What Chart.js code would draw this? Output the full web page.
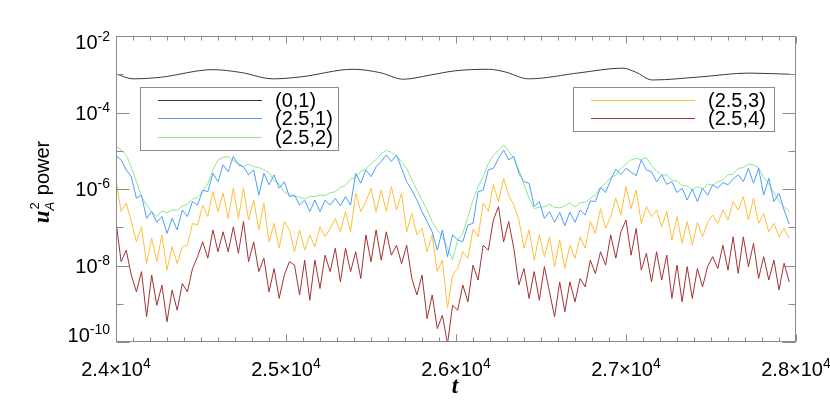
<!DOCTYPE html>
<html>
<head>
<meta charset="utf-8">
<script src="https://cdn.jsdelivr.net/npm/chart.js@4.4.0/dist/chart.umd.min.js"></script>
<style>
html, body { margin: 0; padding: 0; background: #fff; }
canvas { display: block; }
</style>
</head>
<body>
<canvas id="power" width="830" height="415"></canvas>
<script>
// time grid of the (2.5,*) curves: t = T0 + DT*i
var T0 = 24000, DT = 30;

// log10 of u_A^2 power
var logK25m1 = [-5.13,-5.24,-5.50,-5.68,-6.24,-6.16,-6.77,-6.59,-6.87,-6.72,-7.16,-6.77,-7.07,-6.55,-6.72,-6.33,-6.42,-6.03,-6.07,-5.59,-5.81,-5.37,-5.55,-5.15,-5.37,-5.42,-5.63,-5.50,-6.16,-5.59,-5.89,-5.63,-5.98,-5.81,
  -6.20,-6.16,-6.42,-6.29,-6.59,-6.29,-6.59,-6.29,-6.42,-6.24,-6.44,-6.20,-6.42,-5.59,-5.85,-5.50,-5.68,-5.42,-5.28,-5.11,-5.28,-5.11,-5.46,-5.81,-6.03,-6.29,-6.59,-6.85,-7.12,-7.60,-7.07,-7.77,-7.20,
  -7.33,-7.38,-6.94,-6.90,-6.07,-6.03,-5.50,-5.46,-5.20,-4.98,-5.24,-5.15,-5.59,-5.81,-5.85,-6.46,-6.33,-6.77,-6.59,-6.87,-6.61,-6.96,-6.61,-6.87,-6.55,-6.68,-6.31,-6.33,-5.96,-6.09,-5.76,-5.48,-5.62,
  -5.46,-5.56,-5.65,-5.24,-5.50,-5.55,-5.81,-5.63,-5.88,-5.81,-6.09,-5.98,-6.29,-6.00,-6.33,-5.98,-6.16,-5.89,-5.98,-5.83,-5.89,-5.74,-5.63,-5.81,-5.46,-5.85,-5.46,-6.16,-5.72,-6.33,-6.11,-6.55,-6.92];

var logK25m2 = [-4.89,-4.98,-5.11,-5.42,-5.81,-6.20,-6.42,-6.59,-6.72,-6.57,-6.62,-6.55,-6.56,-6.44,-6.41,-6.26,-6.22,-6.06,-5.87,-5.50,-5.24,-5.18,-5.15,-5.26,-5.33,-5.41,-5.35,-5.41,-5.44,-5.50,-5.57,-5.78,-5.87,-6.09,
  -6.14,-6.20,-6.21,-6.26,-6.19,-6.20,-6.16,-6.17,-6.10,-6.07,-5.96,-5.91,-5.74,-5.70,-5.54,-5.48,-5.33,-5.23,-5.07,-4.99,-5.04,-5.13,-5.30,-5.46,-5.76,-6.03,-6.29,-6.55,-6.85,-7.07,-7.25,-7.55,-7.85,
  -7.33,-7.16,-6.72,-6.29,-5.94,-5.68,-5.33,-5.13,-4.98,-4.85,-5.02,-5.18,-5.50,-5.89,-6.24,-6.51,-6.48,-6.46,-6.40,-6.48,-6.49,-6.44,-6.36,-6.47,-6.36,-6.35,-6.24,-6.16,-5.96,-5.85,-5.70,-5.64,-5.46,
  -5.35,-5.24,-5.20,-5.23,-5.18,-5.39,-5.54,-5.63,-5.63,-5.78,-5.79,-5.91,-5.92,-6.03,-5.94,-5.99,-5.87,-5.90,-5.81,-5.76,-5.63,-5.61,-5.46,-5.44,-5.35,-5.37,-5.44,-5.70,-5.87,-6.09,-6.31,-6.48,-6.58];

var logK25m3 = [-5.76,-6.59,-6.37,-6.85,-7.38,-6.99,-7.95,-7.29,-7.90,-7.20,-8.12,-7.51,-7.95,-7.51,-7.47,-6.90,-6.94,-6.42,-6.72,-6.07,-6.59,-6.11,-6.77,-5.98,-6.77,-5.98,-6.81,-6.29,-7.07,-6.37,-7.38,-6.90,-7.55,-6.85,
  -7.07,-7.64,-7.07,-7.60,-7.20,-7.51,-6.99,-7.25,-7.03,-6.77,-7.12,-6.59,-7.12,-6.11,-6.59,-6.33,-5.98,-6.59,-6.03,-6.59,-5.94,-6.55,-6.11,-7.12,-6.64,-7.20,-7.03,-7.64,-7.20,-8.16,-7.86,-9.12,-8.25,
  -8.08,-7.64,-7.81,-7.05,-7.25,-6.37,-6.59,-5.89,-6.33,-5.72,-6.16,-6.42,-6.81,-7.55,-7.07,-7.86,-7.20,-7.77,-7.25,-8.03,-7.33,-8.08,-7.47,-7.81,-7.25,-7.55,-6.85,-7.16,-6.51,-7.03,-6.72,-6.24,-6.68,
  -5.94,-6.51,-6.03,-6.90,-6.46,-6.72,-6.55,-6.99,-6.59,-7.33,-6.72,-7.42,-6.85,-7.47,-6.87,-7.25,-6.87,-6.68,-6.90,-6.55,-6.81,-6.33,-6.55,-6.20,-6.81,-6.24,-6.90,-6.64,-7.12,-6.90,-7.25,-7.03,-7.29];

var logK25m4 = [-6.85,-7.90,-7.60,-8.25,-8.69,-8.16,-9.34,-8.25,-9.04,-8.51,-9.47,-8.64,-9.17,-8.47,-8.69,-8.08,-7.77,-7.38,-7.81,-7.07,-7.64,-7.12,-7.64,-6.99,-7.68,-6.85,-7.90,-7.38,-8.16,-7.81,-8.69,-8.08,-8.86,-8.25,
  -7.90,-7.99,-8.77,-7.86,-8.91,-7.86,-8.60,-7.73,-8.16,-7.55,-8.43,-7.55,-8.16,-7.64,-8.34,-7.20,-7.90,-7.07,-7.86,-7.12,-7.73,-7.47,-7.95,-7.47,-8.34,-8.77,-8.25,-9.39,-8.77,-9.65,-9.30,-10.05,-9.04,
  -9.17,-8.51,-8.95,-7.99,-8.38,-7.47,-7.60,-6.81,-6.46,-7.38,-6.85,-7.55,-8.51,-8.08,-8.86,-8.16,-8.91,-8.03,-8.69,-9.34,-8.43,-9.21,-8.43,-8.95,-8.34,-8.56,-7.86,-8.21,-7.64,-7.99,-7.20,-7.81,-7.12,
  -6.81,-7.73,-7.03,-8.12,-7.68,-8.43,-7.64,-8.38,-7.73,-8.86,-7.99,-8.95,-8.03,-8.86,-8.08,-8.56,-8.03,-7.77,-8.08,-7.47,-8.12,-7.25,-8.21,-7.25,-8.03,-7.42,-8.34,-7.77,-8.38,-7.86,-8.64,-7.94,-8.43];

// the (0,1) curve is smooth, read at its turning points
var tK0m1 = [24000,24100,24260,24570,24730,24925,25085,25395,25555,25690,25850,25995,26190,26290,26425,26730,26980,27055,27155,27435,27720,27965];
var logK0m1 = [-2.99,-3.12,-3.08,-2.88,-2.95,-3.12,-3.07,-2.87,-2.96,-3.13,-3.02,-2.91,-2.87,-2.94,-3.12,-2.96,-2.84,-2.94,-3.15,-3.07,-2.97,-3.00];

var seriesNames = ['(0,1)', '(2.5,1)', '(2.5,2)', '(2.5,3)', '(2.5,4)'];
var seriesColors = ['#3a3a3a', '#4d9dff', '#8ee88e', '#ffbf3a', '#a33232'];

var xTickValues = [24000, 25000, 26000, 27000, 28000];
var xTickMant = ['2.4', '2.5', '2.6', '2.7', '2.8'];
var yTickExps = [-2, -4, -6, -8, -10];

function gridPoints(logs) {
    return logs.map(function (v, i) { return { x: T0 + DT * i, y: Math.pow(10, v) }; });
}

var SANS = '"Liberation Sans", Arial, sans-serif';
var SERIF = '"Liberation Serif", "Times New Roman", serif';

// text with a raised exponent; align: 'right' or 'center'
function drawPow(ctx, base, exp, x, y, align) {
    ctx.font = '20px ' + SANS;
    var wb = ctx.measureText(base).width;
    ctx.font = '14px ' + SANS;
    var we = ctx.measureText(exp).width;
    var x0 = align === 'right' ? x - wb - we : x - (wb + we) / 2;
    ctx.textAlign = 'left';
    ctx.textBaseline = 'alphabetic';
    ctx.font = '20px ' + SANS;
    ctx.fillText(base, x0, y);
    ctx.font = '14px ' + SANS;
    ctx.fillText(exp, x0 + wb, y - 8);
}

var framePlugin = {
    id: 'frame',
    afterDraw: function (chart) {
        var ctx = chart.ctx, a = chart.chartArea;
        var xs = chart.scales.x, ys = chart.scales.y;
        ctx.save();
        ctx.strokeStyle = '#8a8a8a';
        ctx.lineWidth = 1;
        var L = Math.round(a.left) + 0.5, R = Math.round(a.right) - 0.5;
        var T = Math.round(a.top) + 0.5, B = Math.round(a.bottom) - 0.5;
        ctx.strokeRect(L, T, R - L, B - T);

        // y ticks, both sides
        ctx.beginPath();
        for (var e = -10; e <= -2; e++) {
            var py = Math.round(ys.getPixelForValue(Math.pow(10, e))) + 0.5;
            var len = (e % 2 === 0) ? 13 : 7;
            ctx.moveTo(L, py); ctx.lineTo(L + len, py);
            ctx.moveTo(R, py); ctx.lineTo(R - len, py);
        }
        // x ticks, bottom and top
        for (var v = 24000; v <= 28000; v += 100) {
            var px = Math.round(xs.getPixelForValue(v)) + 0.5;
            var l2 = (v % 1000 === 0) ? 7 : 4;
            ctx.moveTo(px, B); ctx.lineTo(px, B - l2);
            ctx.moveTo(px, T); ctx.lineTo(px, T + l2);
        }
        ctx.stroke();

        ctx.fillStyle = '#000';
        yTickExps.forEach(function (e) {
            var py = ys.getPixelForValue(Math.pow(10, e));
            if (e === -2) py += 6;
            if (e === -10) py -= 7;
            drawPow(ctx, '10', String(e), 110, py + 7, 'right');
        });
        xTickValues.forEach(function (v, k) {
            drawPow(ctx, xTickMant[k] + '\u00d710', '4', xs.getPixelForValue(v), 376, 'center');
        });

        // axis titles
        ctx.textAlign = 'center';
        ctx.font = 'bold italic 23px ' + SERIF;
        ctx.fillText('t', 455, 393);

        ctx.save();
        ctx.translate(49, 182);
        ctx.rotate(-Math.PI / 2);
        ctx.textAlign = 'left';
        ctx.font = 'bold italic 23px ' + SERIF;
        var wu = ctx.measureText('u').width;
        ctx.font = '13px ' + SANS;
        var w2 = ctx.measureText('2').width;
        ctx.font = 'italic 13px ' + SANS;
        var wA = ctx.measureText('A').width;
        ctx.font = '20px ' + SANS;
        var wp = ctx.measureText(' power').width;
        var wsub = Math.max(w2, wA) + 1;
        var sx = -(wu + wsub + wp) / 2;
        ctx.font = 'bold italic 23px ' + SERIF;
        ctx.fillText('u', sx, 0);
        ctx.font = '13px ' + SANS;
        ctx.fillText('2', sx + wu + 1, -10);
        ctx.font = 'italic 13px ' + SANS;
        ctx.fillText('A', sx + wu, 5);
        ctx.font = '20px ' + SANS;
        ctx.fillText(' power', sx + wu + wsub, 0);
        ctx.restore();

        // legend boxes
        function legendBox(x, y, w, h, items) {
            ctx.fillStyle = '#fff';
            ctx.fillRect(x, y, w, h);
            ctx.strokeStyle = '#8a8a8a';
            ctx.strokeRect(x + 0.5, y + 0.5, w, h);
            var rows = [13, 31, 50];
            items.forEach(function (it, k) {
                var ly = y + rows[k];
                ctx.fillStyle = seriesColors[it];
                ctx.fillRect(x + 18, ly, 104, 1);
                ctx.fillStyle = '#000';
                ctx.font = '20px ' + SANS;
                ctx.textAlign = 'left';
                ctx.textBaseline = 'middle';
                ctx.fillText(seriesNames[it], x + 135, ly + 1);
            });
        }
        legendBox(140, 87, 198, 63, [0, 1, 2]);
        legendBox(573, 87, 201, 44, [3, 4]);
        ctx.restore();
    }
};

document.addEventListener('DOMContentLoaded', function () {
    var ctx = document.getElementById('power').getContext('2d');

    var blackData = tK0m1.map(function (t, i) { return { x: t, y: Math.pow(10, logK0m1[i]) }; });
    var grids = [logK25m1, logK25m2, logK25m3, logK25m4];

    var datasets = [{
        label: seriesNames[0],
        data: blackData,
        borderColor: seriesColors[0],
        borderWidth: 1,
        pointRadius: 0,
        cubicInterpolationMode: 'monotone',
        fill: false
    }];
    grids.forEach(function (g, k) {
        datasets.push({
            label: seriesNames[k + 1],
            data: gridPoints(g),
            borderColor: seriesColors[k + 1],
            borderWidth: 1,
            pointRadius: 0,
            tension: 0,
            fill: false
        });
    });

    new Chart(ctx, {
        type: 'line',
        data: { datasets: datasets },
        options: {
            responsive: false,
            animation: false,
            devicePixelRatio: 1,
            layout: { padding: { left: 116, right: 34, top: 36, bottom: 73 } },
            plugins: { legend: { display: false }, tooltip: { enabled: false } },
            scales: {
                x: { type: 'linear', min: 24000, max: 28000, display: false },
                y: { type: 'logarithmic', min: 1e-10, max: 1e-2, display: false }
            }
        },
        plugins: [framePlugin]
    });
});
</script>
</body>
</html>
